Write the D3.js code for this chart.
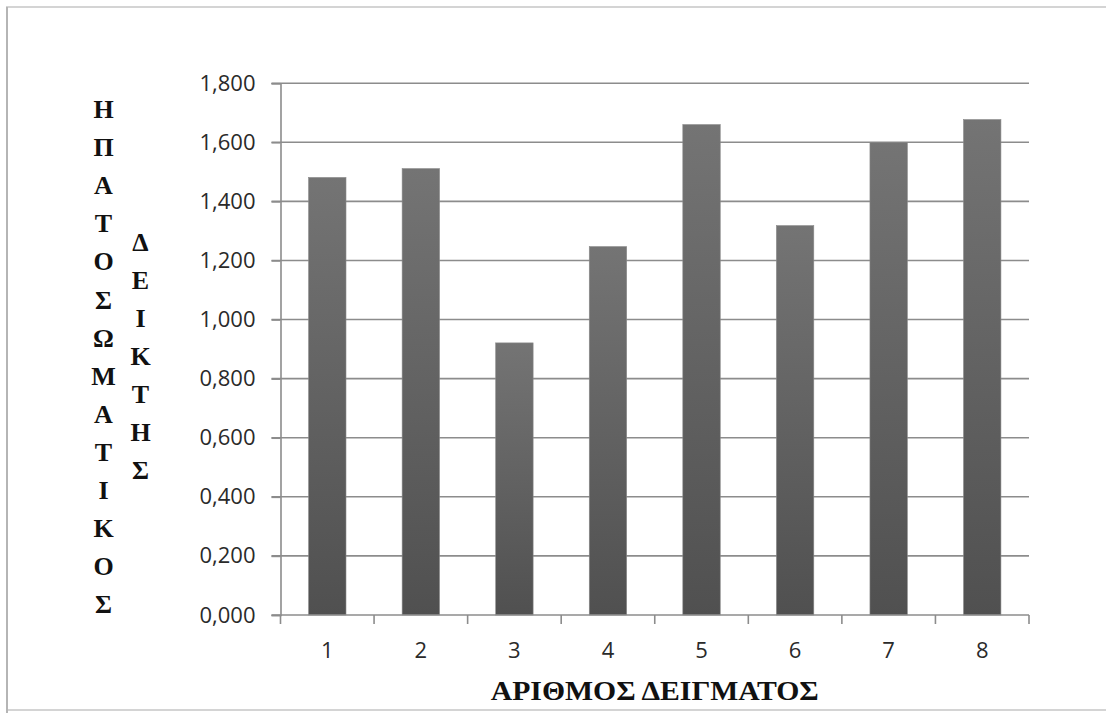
<!DOCTYPE html>
<html>
<head>
<meta charset="utf-8">
<script src="https://cdn.jsdelivr.net/npm/d3@7"></script>
<style>
html,body{margin:0;padding:0;background:#fff;}
svg{display:block;}
</style>
</head>
<body>
<svg id="chart" width="1106" height="713"></svg>
<script>
const categories = ["1","2","3","4","5","6","7","8"];
const values = [1.481, 1.511, 0.921, 1.247, 1.660, 1.318, 1.600, 1.677];
const yTicks = [0, 0.2, 0.4, 0.6, 0.8, 1.0, 1.2, 1.4, 1.6, 1.8];
const yTitleLeft = ["Η","Π","Α","Τ","Ο","Σ","Ω","Μ","Α","Τ","Ι","Κ","Ο","Σ"];
const yTitleRight = ["Δ","Ε","Ι","Κ","Τ","Η","Σ"];
const xTitle = "ΑΡΙΘΜΟΣ ΔΕΙΓΜΑΤΟΣ";

(function(){
const svg = d3.select("#chart");
const pL = 280.5, pR = 1029, pT = 83.2, pB = 615;

// frame
svg.append("rect").attr("x",7).attr("y",7).attr("width",1120).attr("height",703)
  .attr("fill","none").attr("stroke","#d4d4d4").attr("stroke-width",2);
svg.append("line").attr("x1",7).attr("x2",7).attr("y1",7).attr("y2",713)
  .attr("stroke","#b5b5b5").attr("stroke-width",2);

const defs = svg.append("defs");
const grad = defs.append("linearGradient").attr("id","barGrad")
  .attr("x1",0).attr("y1",0).attr("x2",0).attr("y2",1);
grad.append("stop").attr("offset","0%").attr("stop-color","#747474");
grad.append("stop").attr("offset","100%").attr("stop-color","#505050");

const x = d3.scaleBand().domain(categories).range([pL, pR])
  .paddingInner(0.6).paddingOuter(0.3);
const y = d3.scaleLinear().domain([0, 1.8]).range([pB, pT]);

const fmt = v => d3.format(".3f")(v).replace(".", ",");

// gridlines
svg.append("g").selectAll("line").data(yTicks.filter(d => d > 0)).join("line")
  .attr("x1", pL - 9).attr("x2", pR)
  .attr("y1", d => y(d)).attr("y2", d => y(d))
  .attr("stroke","#8c8c8c").attr("stroke-width",1.6);

// y axis via d3
const yAxis = d3.axisLeft(y).tickValues(yTicks).tickFormat(fmt).tickSize(9).tickPadding(16);
const gy = svg.append("g").attr("transform",`translate(${pL},0)`).call(yAxis);
gy.select(".domain").attr("stroke","#8c8c8c").attr("stroke-width",1.6);
gy.selectAll(".tick line").attr("stroke","#8c8c8c").attr("stroke-width",1.6);
gy.selectAll(".tick text").attr("font-family","'Open Sans', sans-serif")
  .attr("font-size",22).attr("fill","#2a2a2a");

// bars
svg.append("g").selectAll("rect").data(values).join("rect")
  .attr("x",(d,i)=>x(categories[i]))
  .attr("width",x.bandwidth())
  .attr("y",d=>y(d))
  .attr("height",d=>y(0)-y(d))
  .attr("fill","url(#barGrad)")
  .attr("stroke","#8a8a8a").attr("stroke-width",0.6);

// x axis
const xEdges = categories.map(c => x(c) - x.step()*x.paddingInner()/2 ).concat([pR]);
svg.append("line").attr("x1",pL-9).attr("x2",pR).attr("y1",pB).attr("y2",pB)
  .attr("stroke","#8c8c8c").attr("stroke-width",1.6);
svg.append("g").selectAll("line").data(xEdges).join("line")
  .attr("x1",d=>d).attr("x2",d=>d).attr("y1",pB).attr("y2",pB+9)
  .attr("stroke","#8c8c8c").attr("stroke-width",1.6);
svg.append("g").selectAll("text").data(categories).join("text")
  .attr("x",d=>x(d)+x.bandwidth()/2).attr("y",658)
  .attr("text-anchor","middle")
  .attr("font-family","'Open Sans', sans-serif").attr("font-size",22).attr("fill","#2a2a2a")
  .text(d=>d);

// x title
svg.append("text").attr("x",(pL+pR)/2).attr("y",700)
  .attr("text-anchor","middle")
  .attr("font-family","'Liberation Serif', 'Times New Roman', serif")
  .attr("font-weight","bold").attr("font-size",28).attr("fill","#111")
  .attr("textLength",328).attr("lengthAdjust","spacingAndGlyphs")
  .text(xTitle);

// vertical titles
svg.append("g").selectAll("text").data(yTitleLeft).join("text")
  .attr("x",103.5).attr("y",(d,i)=>118 + i*38.1)
  .attr("text-anchor","middle")
  .attr("font-family","'Liberation Serif', 'Times New Roman', serif")
  .attr("font-weight","bold").attr("font-size",26).attr("fill","#111")
  .text(d=>d);
svg.append("g").selectAll("text").data(yTitleRight).join("text")
  .attr("x",140.5).attr("y",(d,i)=>251 + i*38.0)
  .attr("text-anchor","middle")
  .attr("font-family","'Liberation Serif', 'Times New Roman', serif")
  .attr("font-weight","bold").attr("font-size",26).attr("fill","#111")
  .text(d=>d);
})();
</script>
</body>
</html>
